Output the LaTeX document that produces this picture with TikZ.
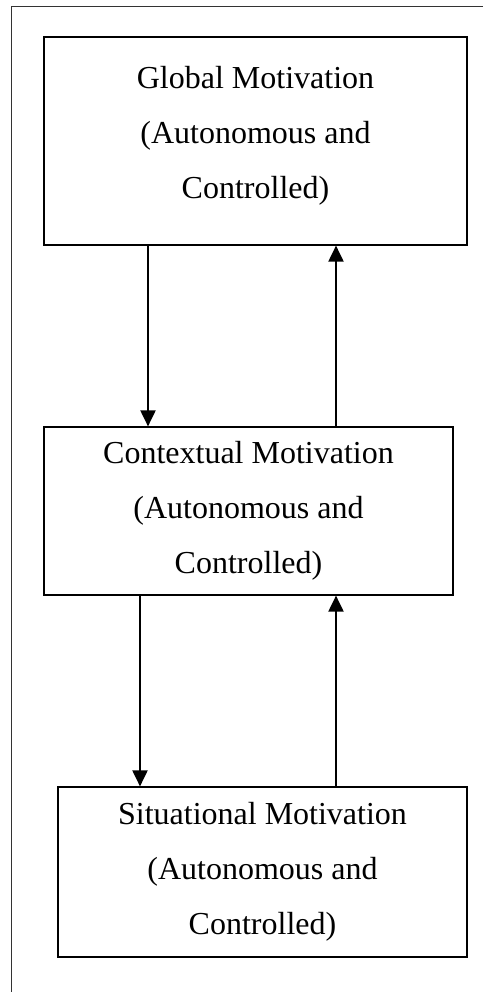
\documentclass[tikz,border=0pt]{standalone}
\usepackage{fontspec}
\setmainfont{Liberation Serif}
\usetikzlibrary{arrows.meta}

\begin{document}
\begin{tikzpicture}[x=1pt,y=1pt,
        motbox/.style={draw, line width=1.2pt, inner sep=0pt, align=center, font=\fontsize{32}{55}\selectfont},
        motarrow/.style={line width=2pt, -{Triangle[width=15pt,length=16pt]}}]
        \useasboundingbox (0, 0) rectangle (483, -992);
        % frame
        \draw[line width=1pt, black!80] (483, -7) -- (11, -7) -- (11, -992);
        \node[motbox, minimum width=423, minimum height=208] (global) at (255.5, -141) {Global Motivation\\(Autonomous and\\Controlled)\rule[-17pt]{0pt}{17pt}};
        \node[motbox, minimum width=409, minimum height=168] (contextual) at (248.5, -511) {Contextual Motivation\\(Autonomous and\\Controlled)};
        \node[motbox, minimum width=409, minimum height=170] (situational) at (262.5, -872) {Situational Motivation\\(Autonomous and\\Controlled)};
        \coordinate (down1) at (148, 0);
        \coordinate (down2) at (140, 0);
        \coordinate (up) at (336, 0);
        \draw[motarrow] (global.south -| down1) -- (contextual.north -| down1);
        \draw[motarrow] (contextual.north -| up) -- (global.south -| up);
        \draw[motarrow] (contextual.south -| down2) -- (situational.north -| down2);
        \draw[motarrow] (situational.north -| up) -- (contextual.south -| up);
    \end{tikzpicture}
\end{document}
